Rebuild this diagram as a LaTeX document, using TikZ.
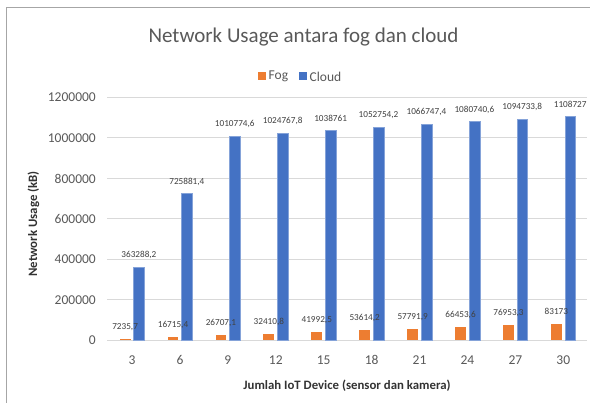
\documentclass[tikz,border=0pt]{standalone}
\usepackage{fontspec}
\setmainfont{Carlito}
\definecolor{fogc}{HTML}{ED7D31}
\definecolor{cloudc}{HTML}{4472C4}
\definecolor{gridc}{HTML}{D9D9D9}
\definecolor{txtc}{HTML}{595959}
\definecolor{framec}{HTML}{A6A6A6}
\tikzset{
  ticklbl/.style={font=\fontsize{13.5}{15}\selectfont, text=txtc, inner sep=0pt},
  vallbl/.style={font=\fontsize{9.2}{10}\selectfont, text=black!75, inner sep=0pt},
  axtitle/.style={font=\bfseries\fontsize{12.8}{14}\selectfont, text=black!80, inner sep=0pt},
  gridline/.style={draw=gridc, line width=1pt},
  fogbar/.style={fill=fogc},
  cloudbar/.style={fill=cloudc, draw=cloudc!65!white, line width=0.5pt},
}
\begin{document}
\begin{tikzpicture}[x=1pt,y=-1pt]
\useasboundingbox (0,0) rectangle (590,403);
\fill[white] (0,0) rectangle (590,403);
% chart frame (left and top edges)
\draw[framec, line width=1pt] (6.5,403) -- (6.5,7.5) -- (590,7.5);

% title and legend
\node[font=\fontsize{21}{24}\selectfont, text=txtc, inner sep=0pt] (title) at (303.5,37.5) {Network Usage antara fog dan cloud};
\fill[fogc] (258,72.5) rectangle (266,80.5);
\node[ticklbl, anchor=west] (lgfog) at (268.5,76.5) {Fog};
\fill[cloudc] (299,72.5) rectangle (307,80.5);
\node[ticklbl, anchor=west] (lgcloud) at (309.5,76.5) {Cloud};

% horizontal gridlines and value axis labels
\foreach \k/\lab in {0/0,1/200000,2/400000,3/600000,4/800000,5/1000000,6/1200000}{
  \draw[gridline] (107,340.5-40.5*\k) -- (587,340.5-40.5*\k);
  \node[ticklbl, anchor=east] (ytick\k) at (96,340.5-40.5*\k) {\lab};
}

% bars: value (thousands) -> height 0.2025 per thousand
\foreach \i/\c/\f/\fl/\b/\bl in {
  1/3/7.2357/{7235,7}/363.2882/{363288,2},
  2/6/16.7154/{16715,4}/725.8814/{725881,4},
  3/9/26.7071/{26707,1}/1010.7746/{1010774,6},
  4/12/32.4108/{32410,8}/1024.7678/{1024767,8},
  5/15/41.9925/{41992,5}/1038.761/{1038761},
  6/18/53.6142/{53614,2}/1052.7542/{1052754,2},
  7/21/57.7919/{57791,9}/1066.7474/{1066747,4},
  8/24/66.4536/{66453,6}/1080.7406/{1080740,6},
  9/27/76.9533/{76953,3}/1094.7338/{1094733,8},
  10/30/83.173/{83173}/1108.727/{1108727}}{
  \pgfmathsetmacro{\xc}{84.1+47.92*\i}
  \pgfmathsetmacro{\yf}{340.5-0.2025*\f}
  \pgfmathsetmacro{\yb}{340.5-0.2025*\b}
  \fill[fogbar] (\xc-12.3,340.5) rectangle (\xc-1.5,\yf);
  \filldraw[cloudbar] (\xc+1.5,340.5) rectangle (\xc+12.3,\yb);
  \node[vallbl] (fogv\i) at (\xc-6.9,\yf-12) {\fl};
  \node[vallbl] (cloudv\i) at (\xc+6.9,\yb-12) {\bl};
  \node[ticklbl] (xtick\i) at (\xc,360) {\c};
}

% axis titles
\node[axtitle] (xtitle) at (347,386) {Jumlah IoT Device (sensor dan kamera)};
\node[axtitle, rotate=90] (ytitle) at (33.5,224) {Network Usage (kB)};
\end{tikzpicture}
\end{document}
